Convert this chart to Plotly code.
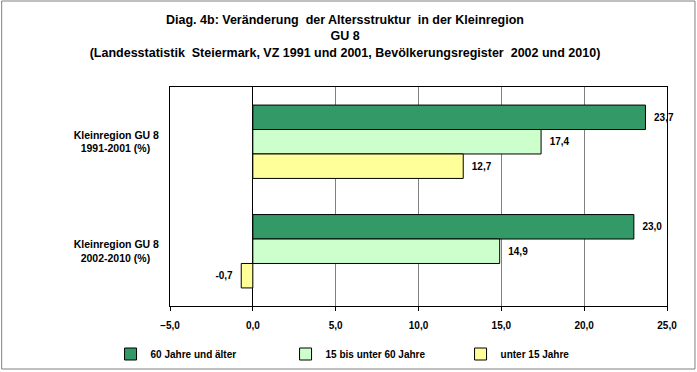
import plotly.graph_objects as go

categories = ["Kleinregion GU 8 1991-2001 (%)", "Kleinregion GU 8 2002-2010 (%)"]
category_labels = ["Kleinregion GU 8<br>1991-2001 (%)\u00a0\u00a0\u00a0",
                   "Kleinregion GU 8<br>2002-2010 (%)\u00a0\u00a0\u00a0"]
series_names = ["60 Jahre und älter", "15 bis unter 60 Jahre", "unter 15 Jahre"]
val_60plus = [23.7, 23.0]
val_15_60 = [17.4, 14.9]
val_u15 = [12.7, -0.7]
x_ticks = [-5, 0, 5, 10, 15, 20, 25]

colors = ["#339966", "#CCFFCC", "#FFFF99"]
FONT = "Liberation Sans, Arial, sans-serif"
NB = "\u00a0\u00a0"


def label(v):
    s = f"{v:.1f}".replace(".", ",")
    return NB + s if v >= 0 else s + NB


fig = go.Figure()
for name, vals, col in zip(series_names, [val_60plus, val_15_60, val_u15], colors):
    fig.add_trace(go.Bar(
        y=categories, x=vals, name=name, orientation="h",
        marker=dict(color=col, line=dict(color="black", width=1)),
        text=[label(v) for v in vals],
        textposition="outside", cliponaxis=False, constraintext="none",
        textfont=dict(family=FONT, size=10, color="black", weight="bold"),
    ))

W, H = 697, 372
L, R, T, B = 169.5, 30, 87, 66
pw, ph = W - L - R, H - T - B

fig.update_layout(
    width=W, height=H,
    margin=dict(l=L, r=R, t=T, b=B, autoexpand=False),
    paper_bgcolor="white", plot_bgcolor="white",
    barmode="group", bargap=0.33, bargroupgap=0,
    separators=",.",
    font=dict(family=FONT, size=10, color="black"),
    title=dict(
        text="Diag. 4b: Veränderung  der Altersstruktur  in der Kleinregion<br>GU 8<br>"
             "(Landesstatistik  Steiermark, VZ 1991 und 2001, Bevölkerungsregister  2002 und 2010)",
        x=(345) / W, xref="container", xanchor="center",
        y=1 - 24 / H, yref="container", yanchor="top",
        font=dict(family=FONT, size=12.5, color="black", weight="bold"),
    ),
    xaxis=dict(
        range=[-5, 25], tickvals=x_ticks, tickformat=".1f",
        showgrid=True, gridcolor="#808080", gridwidth=1,
        zeroline=True, zerolinecolor="black", zerolinewidth=1,
        showline=True, linecolor="black", linewidth=1, mirror=True,
        ticks="outside", ticklen=4, tickcolor="black",
        ticklabelstandoff=6,
        tickfont=dict(family=FONT, size=10, color="black", weight="bold"),
        fixedrange=True,
    ),
    yaxis=dict(
        autorange="reversed", tickvals=categories, ticktext=category_labels,
        showgrid=False, showline=True, linecolor="black", linewidth=1, mirror=True,
        ticks="", ticklabelstandoff=8,
        tickfont=dict(family=FONT, size=10.5, color="black", weight="bold"),
        fixedrange=True,
    ),
    legend=dict(
        orientation="h", xref="paper", x=(110 - L) / pw, xanchor="left",
        yref="paper", y=-(354 - (T + ph)) / ph, yanchor="middle",
        font=dict(family=FONT, size=10, color="black", weight="bold"),
        itemwidth=30, entrywidth=130, entrywidthmode="pixels",
        traceorder="normal", bgcolor="rgba(0,0,0,0)",
    ),
    showlegend=True,
)

# outer chart frame
fig.add_shape(type="rect", xref="paper", yref="paper",
              x0=(1 - L) / pw, x1=(695 - L) / pw,
              y0=(T + ph - 369) / ph, y1=(T + ph - 1) / ph,
              line=dict(color="#808080", width=1), fillcolor="rgba(0,0,0,0)", layer="below")

fig.write_html("out.html", config={"displayModeBar": False},
               post_script="document.body.style.margin='0';")
